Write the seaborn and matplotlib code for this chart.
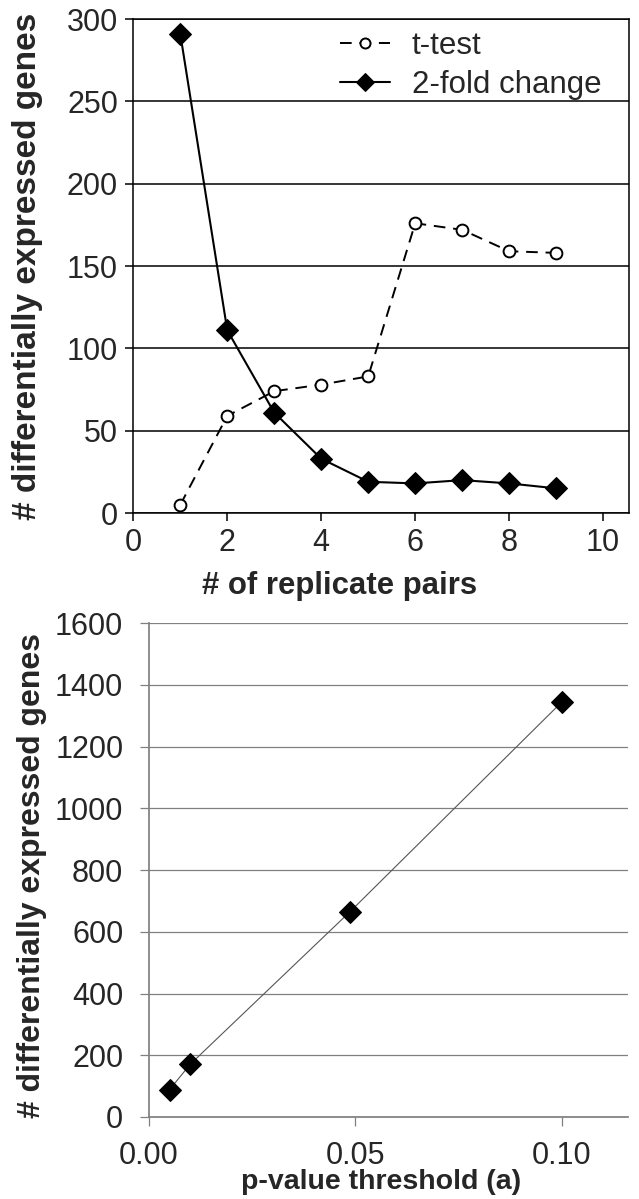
import numpy as np
import pandas as pd
import seaborn as sns
import matplotlib
matplotlib.use('Agg')
import matplotlib.pyplot as plt

# painel superior: numero de pares de replicas
pares = [1, 2, 3, 4, 5, 6, 7, 8, 9]
ttest = [5, 59, 74, 78, 83, 176, 172, 159, 158]
fold2 = [291, 111, 61, 33, 19, 18, 20, 18, 15]

# painel inferior: limiar do p-valor
pvalor = [0.005, 0.01, 0.0487, 0.1]
genes_p = [89, 171, 665, 1344]

sns.set_theme(style='white')
plt.rcParams['font.family'] = ['Liberation Sans', 'DejaVu Sans']

fig = plt.figure(figsize=(6.39, 11.99), dpi=100)
ax1 = fig.add_axes([0.2086, 0.5721, 0.7750, 0.4120])
ax2 = fig.add_axes([0.2332, 0.0684, 0.7496, 0.4118])

# ---- painel superior
sns.lineplot(x=pares, y=ttest, ax=ax1, color='black', linestyle=(0, (6, 4)),
             linewidth=1.4, marker='o', markersize=8.5, markerfacecolor='white',
             markeredgecolor='black', markeredgewidth=1.4, label='t-test')
sns.lineplot(x=pares, y=fold2, ax=ax1, color='black', linewidth=1.5,
             marker='D', markersize=11, markerfacecolor='black',
             markeredgecolor='black', label='2-fold change')

ax1.set_xlim(0, 10.54)
ax1.set_ylim(0, 300)
ax1.set_xticks(range(0, 11, 2))
ax1.set_yticks(range(0, 301, 50))
ax1.yaxis.grid(True, color='black', linewidth=1.1)
ax1.xaxis.grid(False)
for s in ax1.spines.values():
    s.set_visible(True)
    s.set_color('black')
    s.set_linewidth(1.1)
ax1.tick_params(axis='both', which='both', direction='out', length=6, width=1.1,
                color='black', left=True, bottom=True, labelsize=22, pad=5)
ax1.set_xlabel('# of replicate pairs', fontsize=22.4, fontweight='bold')
ax1.set_ylabel('# differentially expressed genes', fontsize=24, fontweight='bold')
ax1.xaxis.set_label_coords(0.417, -0.117)
ax1.yaxis.set_label_coords(-0.182, 0.5)
leg = ax1.legend(loc='upper left', bbox_to_anchor=(0.417, 0.976), frameon=False,
                 fontsize=22.5, handlelength=1.6, handletextpad=0.7,
                 borderaxespad=0, borderpad=0, labelspacing=0.28, markerscale=0.85)

# ---- painel inferior
sns.lineplot(x=pvalor, y=genes_p, ax=ax2, color='#555555', linewidth=0.8,
             marker='D', markersize=11, markerfacecolor='black',
             markeredgecolor='black')
ax2.set_xlim(0, 0.1161)
ax2.set_ylim(0, 1600)
ax2.set_xticks([0.0, 0.05, 0.10])
ax2.set_xticklabels(['0.00', '0.05', '0.10'])
ax2.set_yticks(range(0, 1601, 200))
ax2.yaxis.grid(True, color='#808080', linewidth=0.9)
ax2.xaxis.grid(False)
ax2.spines['top'].set_visible(False)
ax2.spines['right'].set_visible(False)
ax2.spines['left'].set_color('#808080')
ax2.spines['bottom'].set_color('#808080')
ax2.tick_params(axis='both', which='both', direction='out', length=6.5, width=0.9,
                color='#808080', left=True, bottom=True, labelsize=22)
ax2.tick_params(axis='y', pad=12)
ax2.tick_params(axis='x', pad=11)
ax2.set_xlabel('p-value threshold (a)', fontsize=20.5, fontweight='bold')
ax2.set_ylabel('# differentially expressed genes', fontsize=23, fontweight='bold')
ax2.xaxis.set_label_coords(0.484, -0.106)
ax2.yaxis.set_label_coords(-0.213, 0.49)

fig.savefig('out.png', dpi=100)
